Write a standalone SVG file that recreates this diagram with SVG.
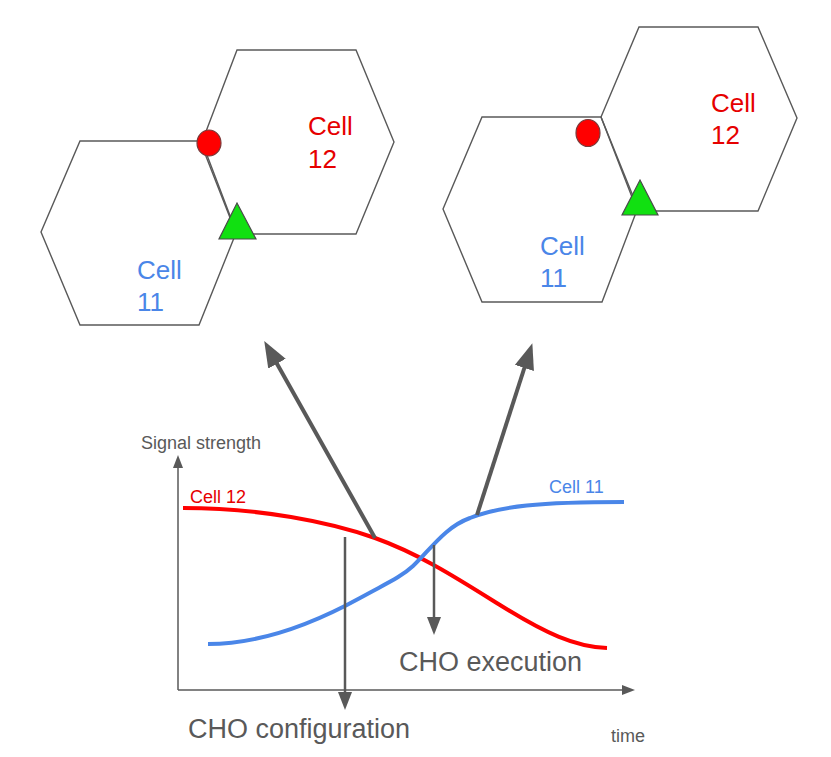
<svg xmlns="http://www.w3.org/2000/svg" width="831" height="757" viewBox="0 0 831 757">
<style>
.hex{fill:none;stroke:#595959;stroke-width:1.4;stroke-linejoin:miter}
.ue{fill:#ff0000;stroke:#7a3a3a;stroke-width:1.2}
.ap{fill:#11e011;stroke:#4a4a4a;stroke-width:1.2}
.t{font-family:"Liberation Sans",Arial,sans-serif}
.red{fill:#e60000}
.blue{fill:#4a86e8}
.grey{fill:#595959}
.big{font-size:26px}
.sm{font-size:18px}
.lg{font-size:27px}
.axis{stroke:#595959;stroke-width:1.5;fill:none}
.thick{stroke:#595959;stroke-width:4;fill:none}
.mid{stroke:#595959;stroke-width:2.5;fill:none}
</style>
<defs>
<marker id="bighead" markerUnits="userSpaceOnUse" markerWidth="30" markerHeight="24" viewBox="0 0 30 24" refX="2" refY="10" orient="auto">
<path d="M0,0 L26,10 L0,20 z" fill="#595959"/>
</marker>
<marker id="midhead" markerUnits="userSpaceOnUse" markerWidth="20" markerHeight="16" viewBox="0 0 20 16" refX="1" refY="7" orient="auto">
<path d="M0,0 L18,7 L0,14 z" fill="#595959"/>
</marker>
<marker id="axhead" markerUnits="userSpaceOnUse" markerWidth="16" markerHeight="12" viewBox="0 0 16 12" refX="1" refY="5" orient="auto">
<path d="M0,0 L13,5 L0,10 z" fill="#595959"/>
</marker>
</defs>

<g id="before-handover">
<g id="left-cell11">
<polygon class="hex" points="41,232 80,141 200,141 236,233 199,325 80,325"/>
<text class="t big blue" x="137" y="279">Cell</text>
<text class="t big blue" x="137" y="311">11</text>
</g>
<g id="left-cell12">
<polygon class="hex" points="202,142 237,50 356,50 394,142 356,234 237,234"/>
<text class="t big red" x="308" y="135">Cell</text>
<text class="t big red" x="308" y="168">12</text>
</g>
<g id="left-ue">
<ellipse class="ue" cx="209" cy="143" rx="12" ry="13"/>
</g>
<g id="left-ap">
<polygon class="ap" points="237,203 256,239 219,239"/>
</g>
</g>

<g id="after-handover">
<g id="right-cell11">
<polygon class="hex" points="443,209 482,117 601,117 637,210 602,302 482,302"/>
<text class="t big blue" x="540" y="255">Cell</text>
<text class="t big blue" x="540" y="287">11</text>
</g>
<g id="right-cell12">
<polygon class="hex" points="601,117 639,27 758,27 797,118 758,211 639,211"/>
<text class="t big red" x="711" y="112">Cell</text>
<text class="t big red" x="711" y="144">12</text>
</g>
<g id="right-ue">
<ellipse class="ue" cx="588" cy="133" rx="12" ry="13.5"/>
</g>
<g id="right-ap">
<polygon class="ap" points="640,180 658,215 622,215"/>
</g>
</g>

<g id="chart">
<g id="axes">
<path class="axis" d="M178,690 L178,467" marker-end="url(#axhead)"/>
<path class="axis" d="M178,690 L623,690" marker-end="url(#axhead)"/>
<text class="t sm grey" x="141" y="449">Signal strength</text>
<text class="t sm grey" x="611" y="742">time</text>
</g>
<g id="curve-cell12">
<path d="M183,508 C260,508 330,522 375,538 C420,554 460,580 500,605 C545,633 575,647 607,648" fill="none" stroke="#ff0000" stroke-width="4"/>
<text class="t sm red" x="190" y="503">Cell 12</text>
</g>
<g id="curve-cell11">
<path d="M208,644 C265,644 320,620 360,598 C385,584 400,578 413,566 C430,550 445,527 470,518 C500,506 540,502 624,502" fill="none" stroke="#4a86e8" stroke-width="4"/>
<text class="t sm blue" x="549" y="493">Cell 11</text>
</g>
<g id="cho-config">
<text class="t lg grey" x="188" y="738">CHO configuration</text>
</g>
<g id="cho-exec">
<text class="t lg grey" x="399" y="671">CHO execution</text>
</g>
</g>

<g id="connectors">
<path class="thick" d="M375,538 L276,362" marker-end="url(#bighead)"/>
<path class="thick" d="M477,515 L525,366" marker-end="url(#bighead)"/>
<path class="mid" d="M345,537 L345,693" marker-end="url(#midhead)"/>
<path class="mid" d="M434,545 L434,618" marker-end="url(#midhead)"/>
</g>
</svg>
